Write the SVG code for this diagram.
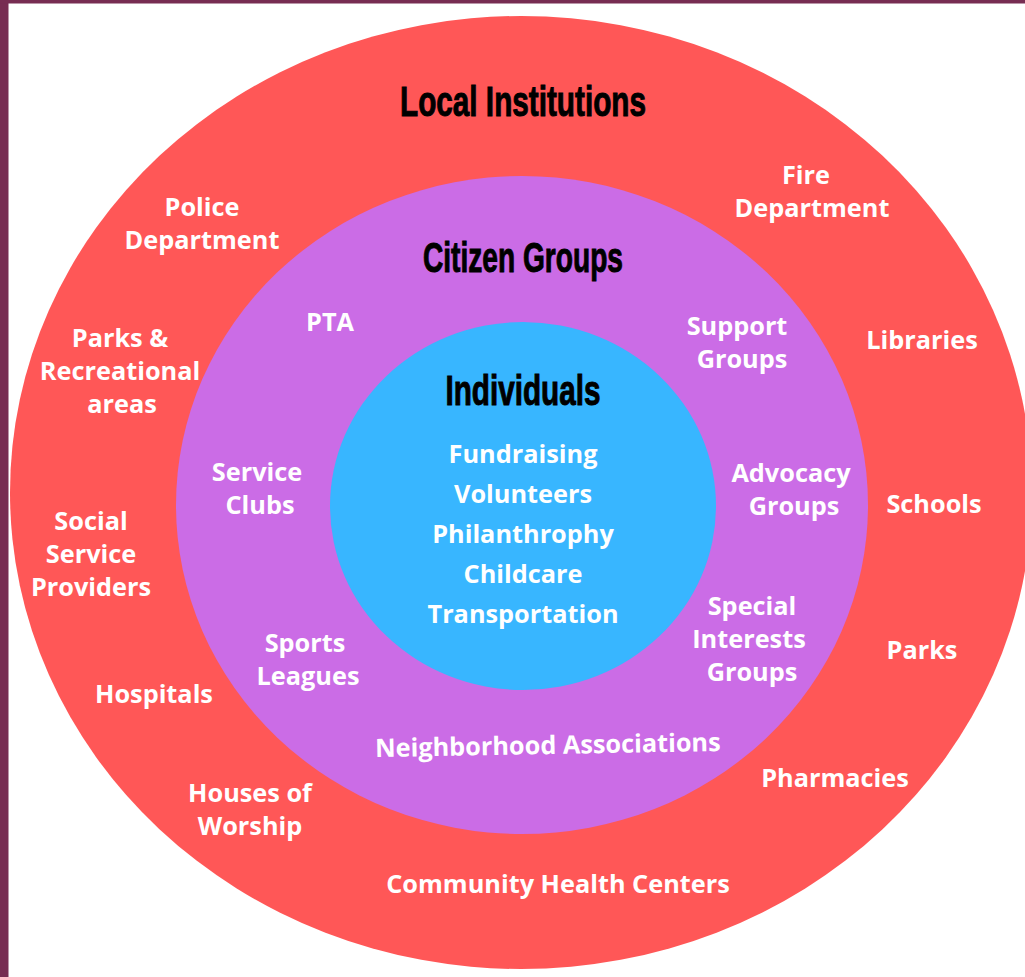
<svg xmlns="http://www.w3.org/2000/svg" width="1025" height="977" viewBox="0 0 1025 977">
<style>
.t{font-family:"Open Sans","Liberation Sans",sans-serif;font-weight:700;font-size:25.3px;fill:#ffffff;text-anchor:middle}
.h{font-family:"Liberation Sans","DejaVu Sans",sans-serif;font-weight:700;font-size:43px;fill:#000000;stroke:#000000;stroke-width:1;text-anchor:middle}
</style>
<rect x="0" y="0" width="1025" height="977" fill="#ffffff"/>
<rect x="0" y="0" width="8.5" height="977" fill="#772d52"/>
<rect x="0" y="0" width="1025" height="3.5" fill="#772d52"/>
<g id="local-institutions">
<ellipse cx="521" cy="492.5" rx="511" ry="476.5" fill="#ff5757"/>
<text class="h" x="523" y="116" textLength="246" lengthAdjust="spacingAndGlyphs">Local Institutions</text>
<text class="t" x="202" y="216">Police</text>
<text class="t" x="202" y="249">Department</text>
<text class="t" x="806" y="184">Fire</text>
<text class="t" x="812" y="217">Department</text>
<text class="t" x="120" y="347">Parks &amp;</text>
<text class="t" x="120" y="380">Recreational</text>
<text class="t" x="122" y="413">areas</text>
<text class="t" x="922" y="349">Libraries</text>
<text class="t" x="91" y="530">Social</text>
<text class="t" x="91" y="563">Service</text>
<text class="t" x="91" y="596">Providers</text>
<text class="t" x="934" y="513">Schools</text>
<text class="t" x="922" y="659">Parks</text>
<text class="t" x="154" y="703">Hospitals</text>
<text class="t" x="835" y="787">Pharmacies</text>
<text class="t" x="250" y="802">Houses of</text>
<text class="t" x="250" y="835">Worship</text>
<text class="t" x="558" y="893">Community Health Centers</text>
</g>
<g id="citizen-groups">
<ellipse cx="522" cy="505" rx="346" ry="329" fill="#cb6ce6"/>
<text class="h" x="523" y="272" textLength="200" lengthAdjust="spacingAndGlyphs">Citizen Groups</text>
<text class="t" x="330" y="331">PTA</text>
<text class="t" x="737" y="335">Support</text>
<text class="t" x="742" y="368">Groups</text>
<text class="t" x="257" y="481">Service</text>
<text class="t" x="260" y="514">Clubs</text>
<text class="t" x="791" y="482">Advocacy</text>
<text class="t" x="794" y="515">Groups</text>
<text class="t" x="752" y="615">Special</text>
<text class="t" x="749" y="648">Interests</text>
<text class="t" x="752" y="681">Groups</text>
<text class="t" x="305" y="652">Sports</text>
<text class="t" x="308" y="685">Leagues</text>
<text class="t" x="548" y="754" transform="rotate(-1 548 754)">Neighborhood Associations</text>
</g>
<g id="individuals">
<ellipse cx="523" cy="506" rx="193" ry="184" fill="#38b6ff"/>
<text class="h" x="523" y="405" textLength="155" lengthAdjust="spacingAndGlyphs">Individuals</text>
<text class="t" x="523" y="463">Fundraising</text>
<text class="t" x="523" y="503">Volunteers</text>
<text class="t" x="523" y="543">Philanthrophy</text>
<text class="t" x="523" y="583">Childcare</text>
<text class="t" x="523" y="623">Transportation</text>
</g>
</svg>
